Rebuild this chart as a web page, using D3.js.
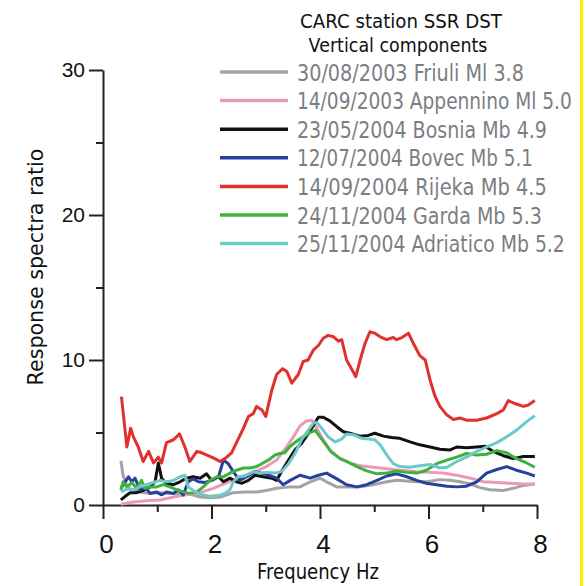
<!DOCTYPE html>
<html>
<head>
<meta charset="utf-8">
<script src="https://cdn.jsdelivr.net/npm/d3@7"></script>
<style>
  body { margin: 0; background: #fff; }
  svg { display: block; }
</style>
</head>
<body>
<div id="chart"></div>
<script>
// values, [frequency Hz, response spectra ratio]
const friuli = [[0.33,3.05],[0.37,2.05],[0.44,1.3],[0.53,1.05],[0.68,0.9],[0.87,0.8],[1.05,0.85],[1.23,0.8],[1.42,0.8],[1.6,0.75],[1.79,0.55],[1.97,0.5],[2.16,0.55],[2.28,0.7],[2.4,0.85],[2.59,0.9],[2.83,0.9],[3.01,1.0],[3.2,1.15],[3.45,1.25],[3.63,1.25],[3.82,1.6],[4.0,1.85],[4.12,1.6],[4.31,1.25],[4.49,1.25],[4.74,1.25],[4.98,1.4],[5.23,1.6],[5.41,1.7],[5.6,1.65],[5.78,1.6],[5.96,1.6],[6.21,1.75],[6.4,1.7],[6.58,1.6],[6.77,1.45],[6.95,1.2],[7.13,1.05],[7.38,1.0],[7.56,1.15],[7.75,1.35],[7.96,1.45]];
const appennino = [[0.33,0.05],[0.56,0.2],[0.8,0.3],[1.05,0.35],[1.3,0.55],[1.54,0.7],[1.79,0.85],[2.03,1.15],[2.28,1.55],[2.52,1.9],[2.77,2.25],[3.01,2.65],[3.2,3.1],[3.39,4.05],[3.51,4.7],[3.63,5.45],[3.75,5.8],[3.85,5.85],[3.94,5.3],[4.06,4.5],[4.18,3.8],[4.37,3.2],[4.55,2.9],[4.74,2.7],[4.98,2.6],[5.23,2.5],[5.47,2.4],[5.78,2.3],[6.03,2.25],[6.27,2.2],[6.52,2.05],[6.77,1.85],[7.01,1.6],[7.26,1.55],[7.5,1.5],[7.75,1.45],[7.96,1.45]];
const bosnia = [[0.33,0.35],[0.41,0.6],[0.5,0.85],[0.62,0.85],[0.74,1.0],[0.87,1.25],[0.96,1.6],[1.02,2.9],[1.08,1.85],[1.17,1.5],[1.3,1.4],[1.42,1.6],[1.54,1.85],[1.66,1.95],[1.79,1.85],[1.91,2.15],[2.0,1.7],[2.13,1.95],[2.22,1.6],[2.34,1.85],[2.46,1.6],[2.56,1.5],[2.68,1.7],[2.8,2.05],[2.95,1.95],[3.11,1.85],[3.2,1.7],[3.29,2.3],[3.42,3.1],[3.54,3.8],[3.66,4.25],[3.78,4.9],[3.88,5.5],[3.97,6.05],[4.06,6.05],[4.18,5.8],[4.31,5.4],[4.43,5.05],[4.55,4.95],[4.74,4.75],[4.89,4.8],[5.01,4.95],[5.17,4.75],[5.32,4.65],[5.47,4.6],[5.66,4.35],[5.84,4.15],[6.03,4.0],[6.21,3.85],[6.4,3.8],[6.52,4.0],[6.7,3.95],[6.89,4.0],[7.04,4.05],[7.19,3.7],[7.38,3.4],[7.56,3.2],[7.75,3.35],[7.96,3.35]];
const bovec = [[0.33,1.15],[0.41,1.6],[0.47,1.95],[0.53,1.6],[0.59,1.85],[0.68,1.05],[0.77,1.25],[0.87,0.8],[0.99,0.9],[1.08,0.7],[1.17,0.9],[1.3,0.8],[1.39,1.05],[1.48,0.7],[1.57,1.6],[1.66,1.8],[1.76,1.6],[1.88,1.55],[2.0,1.7],[2.13,1.95],[2.22,3.1],[2.31,2.85],[2.4,2.3],[2.52,1.7],[2.65,1.95],[2.8,2.3],[2.92,2.2],[3.07,2.05],[3.2,1.85],[3.32,1.4],[3.45,1.7],[3.63,2.05],[3.82,1.85],[3.97,2.05],[4.12,2.2],[4.31,1.8],[4.49,1.4],[4.68,1.25],[4.86,1.4],[5.05,1.7],[5.23,2.0],[5.41,2.15],[5.6,1.95],[5.78,1.7],[5.96,1.5],[6.15,1.4],[6.34,1.3],[6.52,1.25],[6.7,1.3],[6.89,1.6],[7.07,2.2],[7.26,2.45],[7.44,2.65],[7.62,2.4],[7.81,2.2],[7.96,2.0]];
const rijeka = [[0.34,7.47],[0.44,4.0],[0.51,5.3],[0.56,4.7],[0.65,4.0],[0.74,3.0],[0.84,3.7],[0.93,2.9],[1.02,3.3],[1.08,2.9],[1.17,4.3],[1.3,4.5],[1.41,4.9],[1.51,4.0],[1.6,3.0],[1.73,3.7],[1.82,3.6],[1.94,3.4],[2.06,3.2],[2.16,3.0],[2.28,3.3],[2.37,3.6],[2.46,4.3],[2.59,5.3],[2.68,6.1],[2.77,6.3],[2.83,6.8],[2.93,6.55],[3.0,6.1],[3.11,7.9],[3.2,9.0],[3.31,9.4],[3.39,9.2],[3.48,8.4],[3.6,9.0],[3.69,9.9],[3.78,10.0],[3.88,10.7],[3.97,11.0],[4.06,11.5],[4.15,11.7],[4.25,11.6],[4.34,11.3],[4.4,11.4],[4.49,10.0],[4.58,9.4],[4.66,8.85],[4.74,10.0],[4.83,11.15],[4.92,11.95],[5.01,11.85],[5.11,11.6],[5.23,11.4],[5.35,11.55],[5.41,11.4],[5.51,11.55],[5.63,11.85],[5.72,11.15],[5.84,10.3],[5.94,10.0],[6.03,8.6],[6.12,7.5],[6.21,6.8],[6.34,6.2],[6.46,5.9],[6.58,6.0],[6.7,5.85],[6.89,5.85],[7.07,6.0],[7.26,6.3],[7.38,6.55],[7.47,7.2],[7.59,7.0],[7.75,6.8],[7.84,6.9],[7.96,7.2]];
const garda = [[0.33,1.05],[0.37,1.6],[0.44,1.25],[0.53,1.55],[0.62,1.15],[0.71,1.7],[0.77,1.15],[0.87,1.25],[0.99,1.25],[1.11,1.4],[1.23,1.25],[1.36,1.05],[1.48,0.9],[1.6,0.8],[1.73,0.9],[1.85,1.25],[1.97,1.7],[2.1,1.95],[2.22,1.95],[2.34,2.2],[2.46,2.4],[2.59,2.55],[2.71,2.55],[2.83,2.65],[2.95,2.9],[3.07,3.15],[3.17,3.45],[3.26,3.55],[3.35,3.6],[3.45,4.05],[3.57,4.4],[3.69,4.7],[3.82,5.0],[3.91,5.15],[4.0,4.7],[4.09,4.25],[4.21,3.65],[4.37,3.2],[4.52,2.95],[4.68,2.65],[4.86,2.35],[5.05,2.15],[5.23,2.2],[5.41,2.35],[5.6,2.25],[5.78,2.2],[5.96,2.4],[6.15,2.85],[6.34,3.1],[6.52,3.3],[6.7,3.55],[6.89,3.45],[7.07,3.5],[7.26,3.75],[7.44,3.6],[7.62,3.2],[7.81,2.9],[7.96,2.6]];
const adriatico = [[0.33,0.9],[0.44,1.1],[0.56,1.05],[0.68,1.25],[0.8,1.4],[0.93,1.55],[1.05,1.7],[1.17,1.6],[1.3,1.7],[1.42,1.95],[1.51,2.05],[1.57,1.25],[1.7,0.9],[1.82,0.7],[1.97,0.6],[2.13,0.65],[2.25,0.8],[2.34,1.05],[2.4,1.6],[2.49,1.95],[2.62,2.0],[2.77,2.3],[2.89,2.2],[3.01,2.25],[3.17,2.2],[3.29,2.3],[3.42,2.85],[3.54,3.55],[3.66,4.5],[3.78,5.15],[3.88,5.65],[3.94,5.7],[4.03,5.3],[4.15,4.7],[4.28,4.35],[4.4,4.55],[4.49,4.9],[4.62,4.85],[4.77,4.6],[4.89,4.55],[5.01,4.5],[5.11,4.15],[5.23,3.45],[5.35,2.85],[5.47,2.65],[5.66,2.6],[5.84,2.7],[6.03,2.8],[6.21,2.55],[6.34,2.6],[6.52,3.0],[6.7,3.3],[6.89,3.7],[7.07,4.0],[7.26,4.3],[7.44,4.7],[7.62,5.15],[7.81,5.75],[7.96,6.15]];

const seriesValues = [friuli, appennino, bosnia, bovec, rijeka, garda, adriatico];
const seriesNames = [
  "30/08/2003 Friuli Ml 3.8",
  "14/09/2003 Appennino  Ml 5.0",
  "23/05/2004 Bosnia Mb 4.9",
  "12/07/2004 Bovec Mb 5.1",
  "14/09/2004 Rijeka  Mb 4.5",
  "24/11/2004 Garda  Mb 5.3",
  "25/11/2004 Adriatico Mb 5.2"
];
const titleLines = ["CARC station SSR DST", "Vertical components"];
const xMajor = [0, 2, 4, 6, 8];
const xMinor = [1, 3, 5, 7];
const yMajor = [0, 10, 20, 30];
const yMinor = [5, 15, 25];

// styling
const colors = ["#a3a4a6", "#e99ab6", "#111111", "#27409a", "#e2302c", "#3db23c", "#6dc9c9"];
const legendTextW = [227, 275, 250, 236, 250, 245, 268];
const textFont = "'DejaVu Sans', sans-serif";
const numFont = "'Liberation Sans', Arial, sans-serif";

const W = 585, H = 586;
const svg = d3.select("#chart").append("svg").attr("width", W).attr("height", H);

const x = d3.scaleLinear().domain([0, 8]).range([103, 537]);
const y = d3.scaleLinear().domain([0, 30]).range([505, 70]);

// squeeze a text horizontally to a given width (the original font is narrow)
function squeezedText(parent, str, tx, ty, width, size, fill, anchor, rot) {
  const t = parent.append("text")
    .attr("font-family", textFont).attr("font-size", size).attr("fill", fill)
    .attr("text-anchor", anchor || "start")
    .text(str);
  const natural = t.node().getComputedTextLength();
  t.attr("transform", `translate(${tx},${ty})${rot ? ` rotate(${rot})` : ""} scale(${width / natural},1)`);
  return t;
}

// yellow strip on the right edge
svg.append("rect").attr("x", 580).attr("y", 0).attr("width", 3).attr("height", H).attr("fill", "#f7f200");

// minor ticks
const gxMinor = svg.append("g").attr("transform", `translate(0,${y(0)})`)
  .call(d3.axisBottom(x).tickValues(xMinor).tickSize(7).tickFormat(""));
const gyMinor = svg.append("g").attr("transform", `translate(${x(0)},0)`)
  .call(d3.axisLeft(y).tickValues(yMinor).tickSize(7).tickFormat(""));

const gx = svg.append("g").attr("transform", `translate(0,${y(0)})`)
  .call(d3.axisBottom(x).tickValues(xMajor).tickSize(14).tickSizeOuter(0).tickPadding(16));
const gy = svg.append("g").attr("transform", `translate(${x(0)},0)`)
  .call(d3.axisLeft(y).tickValues(yMajor).tickSize(14).tickSizeOuter(0).tickPadding(4));

[gxMinor, gyMinor].forEach(g => g.select(".domain").remove());
[gx, gy, gxMinor, gyMinor].forEach(g => {
  g.selectAll("line").attr("stroke", "#222").attr("stroke-width", 2);
  g.select(".domain").attr("stroke", "#222").attr("stroke-width", 2);
});
gx.selectAll("text").attr("font-family", numFont).attr("font-size", 26).attr("fill", "#111")
  .attr("dx", 3);
gy.selectAll("text").attr("font-family", numFont).attr("font-size", 21).attr("fill", "#111");

// curves
const line = d3.line().x(d => x(d[0])).y(d => y(d[1]));
svg.append("g").selectAll("path")
  .data(seriesValues)
  .join("path")
  .attr("d", line)
  .attr("fill", "none")
  .attr("stroke", (d, i) => colors[i])
  .attr("stroke-width", 3)
  .attr("stroke-linejoin", "round");

// axis titles
squeezedText(svg, "Frequency Hz", 318, 579, 122, 22, "#111", "middle");
squeezedText(svg, "Response spectra ratio", 43, 267, 237, 22, "#111", "middle", -90);

// title
squeezedText(svg, titleLines[0], 401, 28, 202, 20, "#111", "middle");
squeezedText(svg, titleLines[1], 398, 52, 179, 20, "#111", "middle");

// legend
seriesNames.forEach((name, i) => {
  const yy = 72 + i * 28.6;
  svg.append("line")
    .attr("x1", 220).attr("x2", 288).attr("y1", yy).attr("y2", yy)
    .attr("stroke", colors[i]).attr("stroke-width", 3.5);
  squeezedText(svg, name, 297, yy + 8.5, legendTextW[i], 23, "#7c7e82");
});
</script>
</body>
</html>
